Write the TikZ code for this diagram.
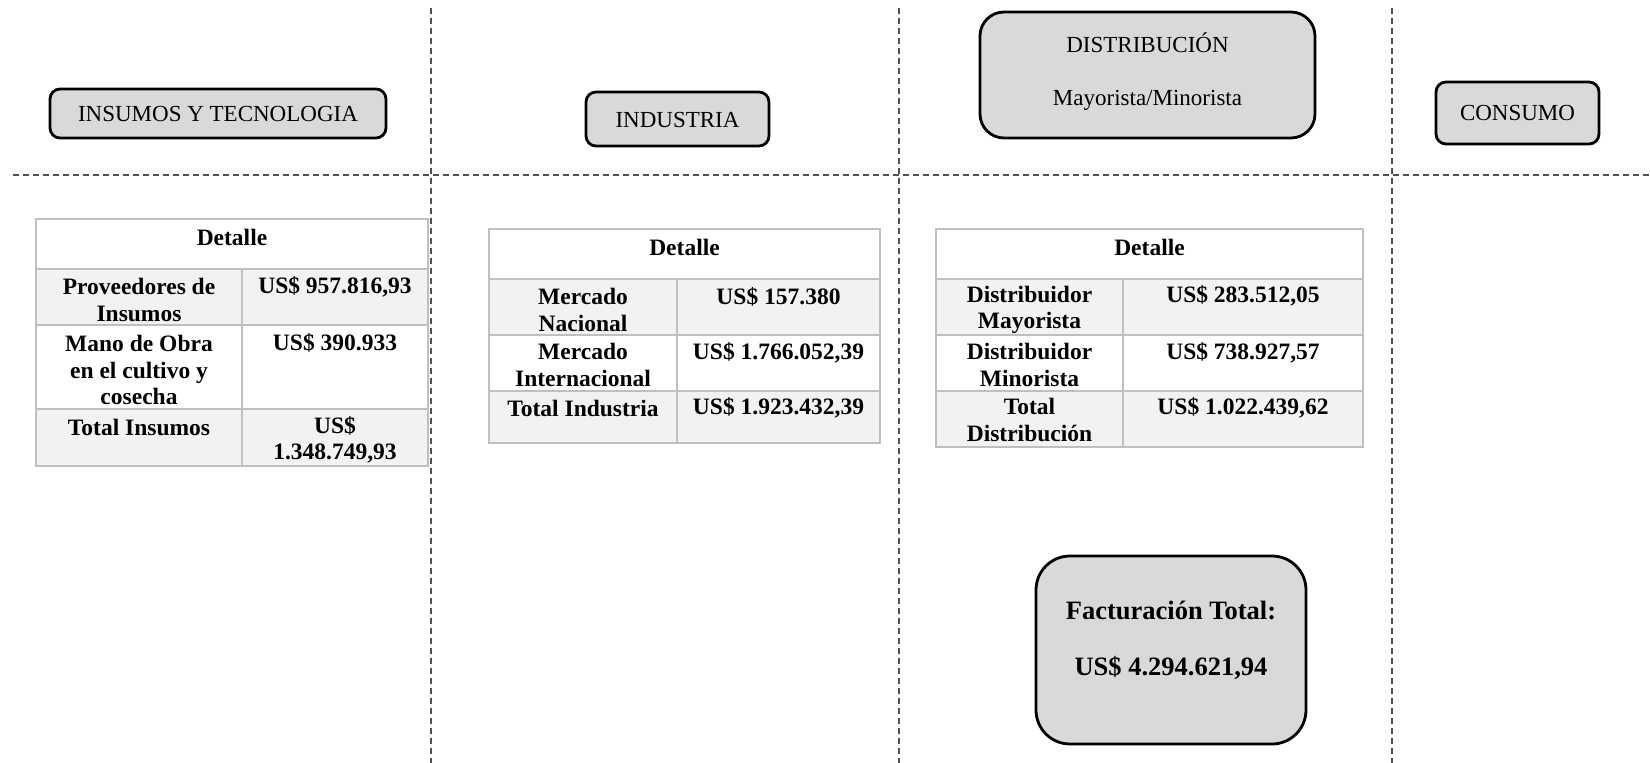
\documentclass[tikz,border=0pt]{standalone}
\usepackage{fontspec}
\setmainfont{Liberation Serif}
\definecolor{boxgray}{HTML}{D9D9D9}
\definecolor{rowgray}{HTML}{F2F2F2}
\definecolor{gridgray}{HTML}{BFBFBF}
\definecolor{sepgray}{HTML}{505050}
\newcommand\tabfont{\fontsize{23.5}{26.5}\selectfont\bfseries}
\newcommand\boxfont{\fontsize{23}{26}\selectfont}
\newcommand\factfont{\fontsize{26.5}{30}\selectfont\bfseries}
\tikzset{
  sepline/.style={draw=sepgray, line width=2pt, dash pattern=on 6pt off 4pt},
  headbox/.style={draw=black, fill=boxgray, line width=2.8pt, rounded corners=10pt},
  tabgrid/.style={draw=gridgray, line width=1.6pt},
  celltext/.style={font=\tabfont, align=center, inner sep=0pt},
  boxtext/.style={font=\boxfont, inner sep=0pt},
}
\begin{document}
\begin{tikzpicture}[x=1pt,y=-1pt]
\useasboundingbox (0,0) rectangle (1650,763);
\fill[white] (0,0) rectangle (1650,763);

% separators
\coordinate (v1t) at (431,8);   \coordinate (v1b) at (431,763);
\coordinate (v2t) at (899,8);   \coordinate (v2b) at (899,763);
\coordinate (v3t) at (1392,8);  \coordinate (v3b) at (1392,763);
\coordinate (hl) at (13,175);   \coordinate (hr) at (1650,175);
\draw[sepline] (v1t) -- (v1b);
\draw[sepline] (v2t) -- (v2b);
\draw[sepline] (v3t) -- (v3b);
\draw[sepline] (hl) -- (hr);

% header boxes
\draw[headbox] (50,89) rectangle (386,138);
\node[boxtext] (insumos) at (218,114) {INSUMOS Y TECNOLOGIA};
\draw[headbox] (586,92) rectangle (769,146);
\node[boxtext] (industria) at (677.5,119.5) {INDUSTRIA};
\draw[headbox, rounded corners=24pt] (980,12) rectangle (1315,138);
\node[boxtext] (distrib) at (1147.5,43) {DISTRIBUCIÓN};
\node[boxtext] (mayomino) at (1147.5,100) {Mayorista/Minorista};
\draw[headbox] (1436,82) rectangle (1599,144);
\node[boxtext] (consumo) at (1517.5,113) {CONSUMO};

% table 1
\fill[rowgray] (36,269) rectangle (428,325);
\fill[rowgray] (36,409) rectangle (428,466);
\draw[tabgrid] (36,219) rectangle (428,466);
\draw[tabgrid] (36,269) -- (428,269) (36,325) -- (428,325) (36,409) -- (428,409);
\draw[tabgrid] (242,269) -- (242,466);
\node[celltext] (t1h) at (232,237) {Detalle};
\node[celltext] (t1a) at (139,300) {Proveedores de\\Insumos};
\node[celltext] (t1av) at (335,287) {US\$ 957.816,93};
\node[celltext] (t1b) at (139,370) {Mano de Obra\\en el cultivo y\\cosecha};
\node[celltext] (t1bv) at (335,343) {US\$ 390.933};
\node[celltext] (t1c) at (139,427) {Total Insumos};
\node[celltext] (t1cv) at (335,440) {US\$\\1.348.749,93};

% table 2
\fill[rowgray] (489,279) rectangle (880,335);
\fill[rowgray] (489,391) rectangle (880,443);
\draw[tabgrid] (489,229) rectangle (880,443);
\draw[tabgrid] (489,279) -- (880,279) (489,335) -- (880,335) (489,391) -- (880,391);
\draw[tabgrid] (677,279) -- (677,443);
\node[celltext] (t2h) at (684.5,247) {Detalle};
\node[celltext] (t2a) at (583,310) {Mercado\\Nacional};
\node[celltext] (t2av) at (778.5,297) {US\$ 157.380};
\node[celltext] (t2b) at (583,365) {Mercado\\Internacional};
\node[celltext] (t2bv) at (778.5,353) {US\$ 1.766.052,39};
\node[celltext] (t2c) at (583,408) {Total Industria};
\node[celltext] (t2cv) at (778.5,408) {US\$ 1.923.432,39};

% table 3
\fill[rowgray] (936,279) rectangle (1363,335);
\fill[rowgray] (936,391) rectangle (1363,447);
\draw[tabgrid] (936,229) rectangle (1363,447);
\draw[tabgrid] (936,279) -- (1363,279) (936,335) -- (1363,335) (936,391) -- (1363,391);
\draw[tabgrid] (1123,279) -- (1123,447);
\node[celltext] (t3h) at (1149.5,247) {Detalle};
\node[celltext] (t3a) at (1029.5,310) {Distribuidor\\Mayorista};
\node[celltext] (t3av) at (1243,296) {US\$ 283.512,05};
\node[celltext] (t3b) at (1029.5,365) {Distribuidor\\Minorista};
\node[celltext] (t3bv) at (1243,353) {US\$ 738.927,57};
\node[celltext] (t3c) at (1029.5,420) {Total\\Distribución};
\node[celltext] (t3cv) at (1243,408) {US\$ 1.022.439,62};

% total box
\draw[headbox, rounded corners=34pt] (1036,556) rectangle (1306,744);
\node[font=\factfont, inner sep=0pt] (fact) at (1171,610) {Facturación Total:};
\node[font=\factfont, inner sep=0pt] (factv) at (1171,668) {US\$ 4.294.621,94};
\end{tikzpicture}
\end{document}
